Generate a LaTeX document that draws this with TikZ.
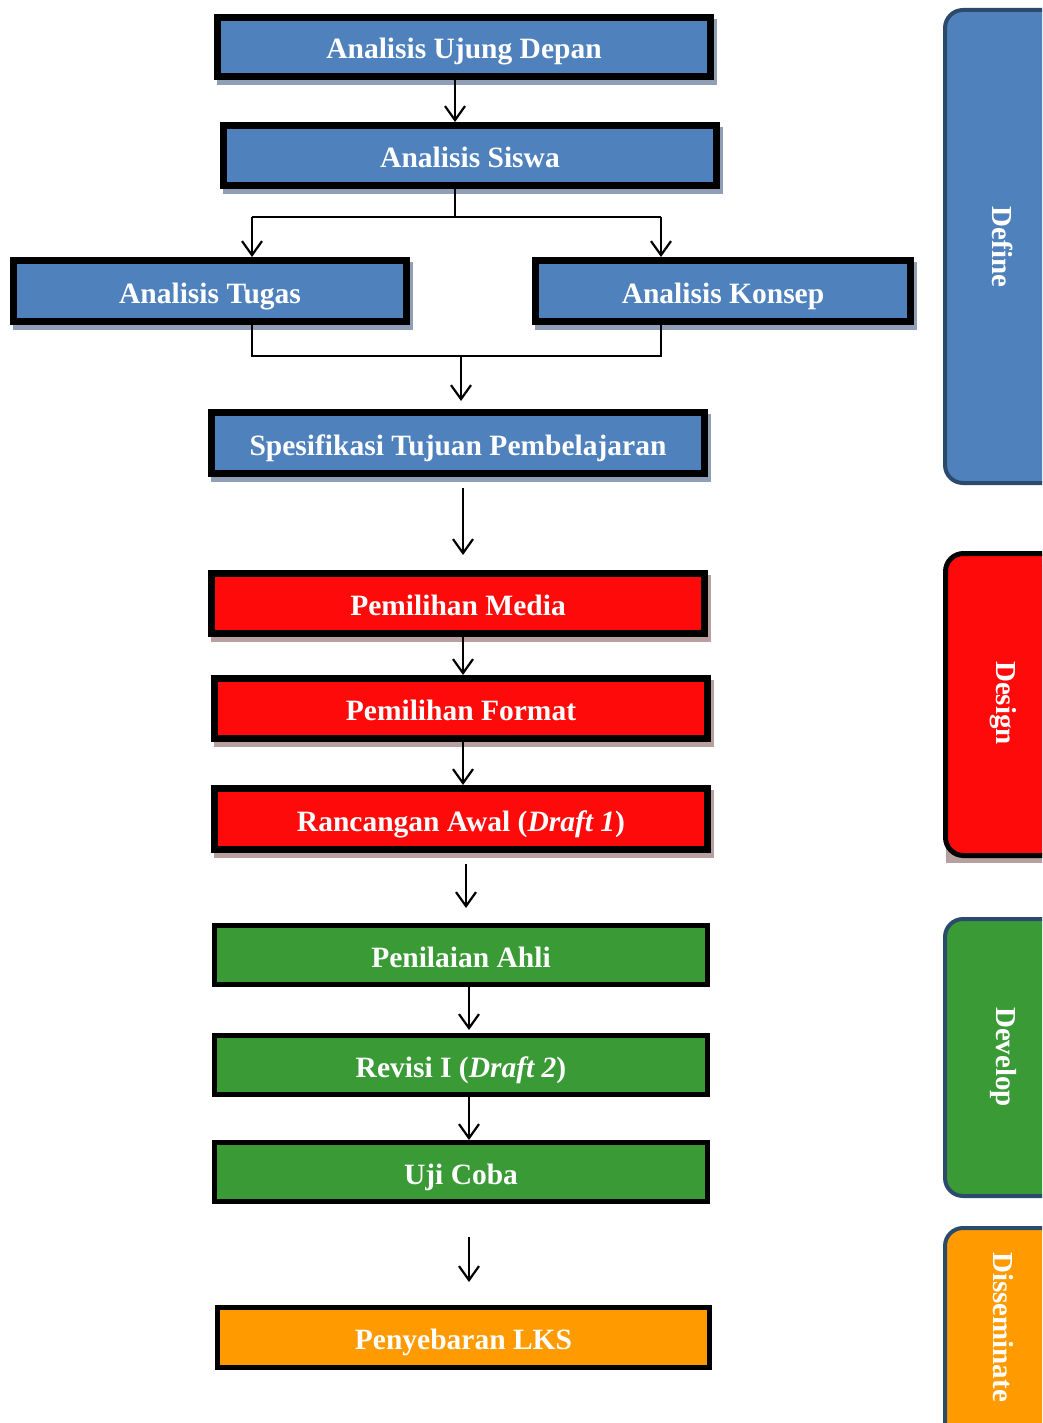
\documentclass[tikz,border=0pt]{standalone}
\usepackage{fontspec}
\setmainfont{Liberation Serif}
\usetikzlibrary{arrows.meta,backgrounds,calc}
\definecolor{cblue}{HTML}{4F81BD}
\definecolor{cred}{HTML}{FF0A0A}
\definecolor{cgreen}{HTML}{3A9B36}
\definecolor{corange}{HTML}{FF9A00}
\definecolor{shblue}{HTML}{909EB6}
\definecolor{shred}{HTML}{B8A0A0}
\definecolor{tabline}{HTML}{2C4A6C}
\begin{document}
\begin{tikzpicture}[x=1pt,y=-1pt,
  box/.style={draw=black, text=white, font=\bfseries\fontsize{29.5}{34}\selectfont, inner sep=0pt, line width=7pt, text height=24pt, text depth=0pt},
  bluebox/.style={box, fill=cblue},
  redbox/.style={box, fill=cred},
  greenbox/.style={box, fill=cgreen, line width=5pt},
  orangebox/.style={box, fill=corange, line width=5pt},
  tab/.style={rounded corners=18pt, line width=4pt, draw=tabline, inner sep=0pt},
  tabtext/.style={text=white, font=\bfseries\fontsize{29}{34}\selectfont, rotate=-90, inner sep=0pt},
  conn/.style={line width=2.2pt, draw=black},
  arr/.style={conn, -{Straight Barb[length=14pt,width=20pt]}}
]
\useasboundingbox (0,0) rectangle (1042,1423);
\clip (0,0) rectangle (1042,1423);

% side tabs
\fill[shred] (946,565) rectangle (1070,863);
\node[tab, fill=cblue, minimum width=123, minimum height=473] (tdefine) at (1006.5,246.5) {};
\node[tab, fill=cred, draw=black, line width=5pt, minimum width=122, minimum height=302] (tdesign) at (1006.5,704.5) {};
\node[tab, fill=cgreen, minimum width=123, minimum height=277] (tdevelop) at (1006.5,1057.5) {};
\node[tab, fill=corange, minimum width=123, minimum height=230] (tdissem) at (1006.5,1343) {};
\node[tabtext] (ldefine) at (1003,247) {Define};
\node[tabtext] (ldesign) at (1003,703) {Design};
\node[tabtext] (ldevelop) at (1003,1057) {Develop};
\node[tabtext] (ldissem) at (1003,1327) {Disseminate};

% boxes
\node[bluebox, minimum width=493, minimum height=59] (n1) at (464,47) {Analisis Ujung Depan};
\node[bluebox, minimum width=493, minimum height=60] (n2) at (470,155.5) {Analisis Siswa};
\node[bluebox, minimum width=393, minimum height=61] (n3) at (210,291) {Analisis Tugas};
\node[bluebox, minimum width=375, minimum height=61] (n4) at (723,291) {Analisis Konsep};
\node[bluebox, minimum width=493, minimum height=61] (n5) at (458,443) {Spesifikasi Tujuan Pembelajaran};
\node[redbox, minimum width=493, minimum height=60] (n6) at (458,603.5) {Pemilihan Media};
\node[redbox, minimum width=493, minimum height=60] (n7) at (461,708.5) {Pemilihan Format};
\node[redbox, minimum width=493, minimum height=61] (n8) at (461,819) {Rancangan Awal (\textit{Draft 1})};
\node[greenbox, minimum width=493, minimum height=59] (n9) at (461,955) {Penilaian Ahli};
\node[greenbox, minimum width=493, minimum height=59] (n10) at (461,1065) {Revisi I (\textit{Draft 2})};
\node[greenbox, minimum width=493, minimum height=59] (n11) at (461,1172) {Uji Coba};
\node[orangebox, minimum width=492, minimum height=60] (n12) at (463.5,1337.5) {Penyebaran LKS};

% shadows
\begin{scope}[on background layer]
\fill[white] (0,0) rectangle (1042,1423);
\foreach \n in {n1,n2,n3,n4,n5}
  \fill[shblue] ($(\n.north west)+(3,5)$) rectangle ($(\n.south east)+(3,5)$);
\foreach \n in {n6,n7,n8}
  \fill[shred] ($(\n.north west)+(3,5)$) rectangle ($(\n.south east)+(3,5)$);
\end{scope}

% connectors
\coordinate (x455) at (455,0);
\coordinate (x463) at (463,0);
\coordinate (x466) at (466,0);
\coordinate (x469) at (469,0);
\coordinate (sp) at (455,217);
\coordinate (spL) at (252,217);
\coordinate (spR) at (661,217);
\coordinate (mL) at (252,356);
\coordinate (mR) at (661,356);
\coordinate (mC) at (461,356);

\draw[arr] (n1.south -| x455) -- (n2.north -| x455);
\draw[conn] (n2.south -| x455) -- (sp);
\draw[conn] (spL) -- (spR);
\draw[arr] (spL) -- (n3.north -| spL);
\draw[arr] (spR) -- (n4.north -| spR);
\draw[conn] (n3.south -| mL) -- (mL) -- (mR) -- (n4.south -| mR);
\draw[arr, shorten >=8pt] (mC) -- (n5.north -| mC);
\draw[arr, shorten <=11pt, shorten >=15pt] (n5.south -| x463) -- (n6.north -| x463);
\draw[arr] (n6.south -| x463) -- (n7.north -| x463);
\draw[arr] (n7.south -| x463) -- (n8.north -| x463);
\draw[arr, shorten <=11pt, shorten >=15pt] (n8.south -| x466) -- (n9.north -| x466);
\draw[arr, shorten >=3pt] (n9.south -| x469) -- (n10.north -| x469);
\draw[arr] (n10.south -| x469) -- (n11.north -| x469);
\draw[arr, shorten <=33pt, shorten >=23pt] (n11.south -| x469) -- (n12.north -| x469);
\end{tikzpicture}
\end{document}
